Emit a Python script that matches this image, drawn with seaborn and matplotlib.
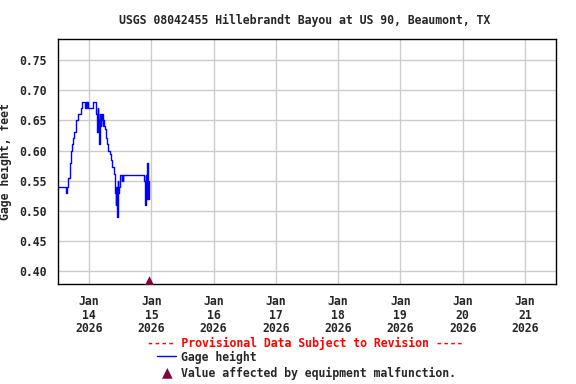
import numpy as np
import pandas as pd
import matplotlib
matplotlib.use("Agg")
import matplotlib.pyplot as plt
import matplotlib.dates as mdates
import seaborn as sns

# ---- data (hours after 2026-01-13 00:00, gage height in feet) ----
hours = [12.0, 15.0, 15.5, 16.0, 16.5, 17.0, 17.25, 17.75, 18.25, 18.75,
         19.0, 19.75, 20.75, 21.25, 22.5, 22.75, 23.0, 23.25, 23.5, 24.25,
         25.5, 26.75, 27.0, 27.25, 27.5, 27.75, 28.0, 28.25, 28.5, 28.75,
         29.0, 29.25, 29.5, 29.75, 30.0, 30.5, 30.75, 31.25, 32.0, 32.5,
         33.0, 33.75, 34.0, 34.25, 34.5, 34.75, 35.0, 35.25, 35.5, 35.75,
         36.5, 36.75, 37.0, 37.25, 37.5, 45.25, 45.5, 45.75, 46.0, 46.25,
         46.5, 46.75, 47.0]
gage = [0.54, 0.53, 0.54, 0.555, 0.58, 0.60, 0.61, 0.62, 0.63, 0.64,
        0.65, 0.66, 0.67, 0.68, 0.67, 0.68, 0.67, 0.68, 0.67, 0.67,
        0.68, 0.66, 0.63, 0.67, 0.65, 0.61, 0.66, 0.64, 0.66, 0.65,
        0.66, 0.64, 0.65, 0.64, 0.635, 0.62, 0.61, 0.60, 0.595, 0.584,
        0.573, 0.561, 0.53, 0.51, 0.54, 0.49, 0.55, 0.53, 0.54, 0.56,
        0.55, 0.56, 0.55, 0.56, 0.56, 0.55, 0.51, 0.56, 0.52, 0.57,
        0.58, 0.52, 0.55]
malfunction_hours = [47.1]

title = "USGS 08042455 Hillebrandt Bayou at US 90, Beaumont, TX"
ylabel = "Gage height, feet"
yticks = [0.40, 0.45, 0.50, 0.55, 0.60, 0.65, 0.70, 0.75]
provisional = "---- Provisional Data Subject to Revision ----"
legend_line = "Gage height"
legend_marker = "Value affected by equipment malfunction."

base = pd.Timestamp("2026-01-13 00:00")
df = pd.DataFrame({"time": [base + pd.Timedelta(hours=h) for h in hours],
                   "gage": gage})
mal_times = [base + pd.Timedelta(hours=h) for h in malfunction_hours]

sns.set_style("white")
plt.rcParams["font.family"] = ["DejaVu Sans Mono"]
plt.rcParams["font.weight"] = "bold"
FS = 8.3

fig = plt.figure(figsize=(5.76, 3.84), dpi=100)
ax = fig.add_axes([58/576, 1-284/384, 498/576, 245/384])

sns.lineplot(data=df, x="time", y="gage", ax=ax, color="#0000ff",
             linewidth=1.0, estimator=None, drawstyle="steps-post")

ymin, ymax = 0.3785, 0.785
ax.set_ylim(ymin, ymax)
ax.set_xlim(pd.Timestamp("2026-01-13 12:00"), pd.Timestamp("2026-01-21 12:00"))

ax.scatter(mal_times, [ymin + 0.002] * len(mal_times), marker="^", s=110,
           color="#800040", zorder=5, clip_on=True, linewidths=0)

ax.xaxis.set_major_locator(mdates.DayLocator(bymonthday=range(14, 22)))
ax.xaxis.set_major_formatter(mdates.DateFormatter("%b\n%d\n%Y"))
ax.set_yticks(yticks)
ax.set_yticklabels([f"{v:.2f}" for v in yticks])
for lab in ax.get_xticklabels() + ax.get_yticklabels():
    lab.set_fontsize(FS)
    lab.set_fontweight("bold")
for lab in ax.get_xticklabels():
    lab.set_linespacing(1.05)
ax.tick_params(axis="x", length=0, pad=8)
ax.tick_params(axis="y", length=0, pad=8)
ax.grid(True, color="#cccccc", linewidth=1.0)
for s in ax.spines.values():
    s.set_color("black")
    s.set_linewidth(1.0)
ax.set_xlabel("")
ax.set_ylabel(ylabel, fontsize=FS, fontweight="bold")
ax.yaxis.set_label_coords((12-58)/498, 0.5)

fig.text(305/576, 1-20/384, title, ha="center", va="center",
         fontsize=FS, fontweight="bold")
fig.text(305/576, 1-343/384, provisional, ha="center", va="center",
         fontsize=FS, fontweight="bold", color="red")
fig.add_artist(plt.Line2D([157/576, 176/576], [1-356/384, 1-356/384],
                          color="#0000ff", linewidth=1.0))
fig.text(181/576, 1-357/384, legend_line, ha="left", va="center",
         fontsize=FS, fontweight="bold")
fig.text(167/576, 1-372/384, "\u25B2", ha="center", va="center",
         fontsize=10, color="#800040", family="DejaVu Sans")
fig.text(181/576, 1-373/384, legend_marker, ha="left", va="center",
         fontsize=FS, fontweight="bold")

fig.savefig("out.png", dpi=100)
